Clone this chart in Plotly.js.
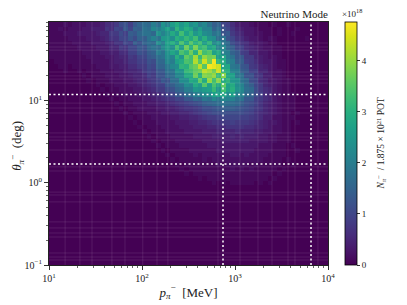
<!DOCTYPE html>
<html><head><meta charset="utf-8">
<script src="https://cdn.plot.ly/plotly-3.0.1.min.js"></script>
<style>html,body{margin:0;padding:0;background:#fff}</style></head>
<body><div id="chart" style="width:407px;height:305px"></div>
<script>
// counts per bin in units of 1e17, top row first
const countRows = [
[1,1,1,2,1,2,2,2,3,3, 3,4,6,6,8,11,12,9,13,15, 17,16,20,17,24,21,26,29,25,28, 23,25,20,22,18,14,15,10,9,6, 4,3,3,2,1,1,1,0,1,0, 0,1,0,0,0,0,0,0,0,0],
[1,1,2,1,2,2,2,3,3,4, 4,4,7,6,10,9,13,10,15,14, 18,17,22,20,23,27,22,31,26,30, 28,22,26,21,21,15,17,12,10,7, 5,4,3,3,2,1,1,1,0,1, 0,0,0,1,0,0,0,0,0,0],
[1,1,1,2,2,2,3,3,3,3, 4,5,5,8,8,11,9,14,13,16, 18,18,16,24,21,24,29,25,33,27, 31,25,28,23,22,18,19,12,13,8, 6,5,3,3,2,2,1,1,0,1, 0,0,1,0,0,0,0,0,0,0],
[1,1,1,1,2,2,2,2,3,3, 3,4,5,7,7,10,10,13,11,15, 14,18,21,18,25,26,23,30,28,32, 29,33,25,30,24,23,17,18,12,10, 7,6,4,3,3,2,1,2,1,0, 0,0,0,0,0,1,0,0,0,0],
[1,1,1,1,1,2,2,2,2,3, 3,3,4,5,7,7,10,9,14,12, 15,17,16,23,20,27,30,25,34,28, 35,30,33,26,31,22,24,18,16,11, 9,7,6,4,3,3,2,1,1,0, 0,0,0,0,0,0,0,0,0,0],
[1,1,1,1,1,1,2,2,2,2, 3,3,3,5,5,8,7,10,10,13, 12,16,18,17,22,26,23,33,26,37, 30,38,31,33,27,29,21,22,16,14, 10,9,6,5,4,3,2,2,1,1, 0,0,0,0,0,0,0,0,0,0],
[1,1,1,1,1,1,1,2,2,2, 2,3,3,4,4,6,6,9,9,12, 11,14,15,20,18,24,28,25,34,31, 37,30,40,33,35,27,29,21,20,15, 13,9,8,5,5,3,3,2,1,1, 0,0,0,0,0,0,0,0,0,0],
[1,1,1,1,1,1,1,1,2,2, 2,2,3,3,4,5,5,8,7,10, 10,13,14,17,18,23,21,30,25,36, 33,41,32,40,37,38,26,28,20,18, 13,13,8,8,5,4,3,2,2,1, 0,0,0,0,0,0,0,0,0,0],
[0,1,1,1,1,1,1,1,1,2, 2,2,2,3,4,4,5,7,7,9, 9,12,11,16,16,22,20,27,29,34, 33,42,35,44,37,47,31,29,22,20, 14,14,9,8,6,4,3,3,2,1, 1,0,0,0,0,0,0,0,0,0],
[0,0,1,1,0,1,1,1,1,1, 2,2,2,3,3,4,4,6,6,8, 8,11,10,15,15,19,22,23,31,30, 35,37,43,35,47,46,44,28,28,19, 18,13,12,8,7,5,4,3,2,1, 1,0,0,0,0,0,0,0,0,0],
[0,0,0,1,0,0,1,0,1,1, 1,2,2,2,3,3,4,5,5,6, 8,10,9,13,13,18,18,25,24,32, 33,36,37,43,41,37,44,31,30,21, 20,14,13,9,9,5,5,3,2,2, 1,0,0,0,0,0,0,0,0,0],
[0,0,0,0,0,0,0,1,0,1, 1,1,2,2,2,3,3,4,5,5, 6,9,8,12,12,16,17,22,22,29, 29,37,30,39,38,40,32,39,28,27, 19,18,12,12,8,7,4,4,2,2, 1,0,0,0,0,0,0,0,0,0],
[0,0,0,0,0,0,0,0,1,0, 1,1,1,2,2,2,3,3,4,5, 5,7,8,10,13,12,17,17,23,23, 29,28,36,29,40,33,39,29,31,25, 24,18,16,11,10,6,5,3,3,2, 1,1,0,0,0,0,0,0,0,0],
[0,0,0,0,0,0,0,0,0,0, 1,0,1,1,2,2,2,3,3,4, 5,6,7,9,9,13,14,17,18,23, 22,29,26,35,27,34,29,36,27,29, 23,21,16,14,10,8,5,4,3,2, 1,1,0,0,0,0,0,0,0,0],
[0,0,0,0,0,0,0,0,0,0, 0,1,0,1,1,2,2,2,3,3, 4,5,6,8,8,11,12,15,16,20, 20,25,24,26,27,32,25,33,27,30, 24,22,17,16,11,8,6,5,3,2, 1,1,0,0,0,0,0,0,0,0],
[0,0,0,0,0,0,0,0,0,0, 0,0,1,0,1,1,2,2,2,3, 3,4,5,6,7,9,10,13,13,17, 17,20,21,23,23,27,27,28,23,27, 21,21,16,15,11,9,6,5,3,2, 1,1,1,0,0,0,0,0,0,0],
[0,0,0,0,0,0,0,0,0,0, 0,0,0,1,0,1,1,2,2,2, 3,3,4,5,6,7,8,10,10,13, 13,16,15,19,18,22,19,22,21,21, 18,18,13,13,9,8,6,5,3,2, 1,1,1,0,0,0,0,0,0,0],
[0,0,0,0,0,0,0,0,0,0, 0,0,0,0,1,0,1,1,2,2, 2,3,3,4,4,5,6,7,8,9, 10,11,12,14,15,16,17,18,17,17, 16,14,12,11,9,7,5,4,3,2, 1,1,1,0,0,0,0,0,0,0],
[0,0,0,0,0,0,0,0,0,0, 0,0,0,0,0,1,0,1,1,2, 2,2,2,3,3,4,4,5,6,7, 7,8,9,11,11,12,13,14,14,14, 13,12,11,10,8,7,5,4,3,2, 1,1,1,0,0,0,0,0,0,0],
[0,0,0,0,0,0,0,0,0,0, 0,0,0,0,0,0,1,0,1,1, 1,2,2,2,3,3,4,4,5,5, 6,7,8,9,10,11,11,12,11,11, 11,11,10,9,7,6,5,4,3,2, 1,1,0,1,0,0,0,0,0,0],
[0,0,0,0,0,0,0,0,0,0, 0,0,0,0,0,0,0,1,0,1, 1,1,2,2,2,2,3,3,4,4, 5,5,6,7,8,8,9,10,10,10, 10,9,9,8,7,6,4,4,2,2, 1,1,1,0,0,0,0,0,0,0],
[0,0,0,0,0,0,0,0,0,0, 0,0,0,0,0,0,0,0,1,0, 1,1,1,2,2,2,2,3,3,3, 4,4,5,5,6,7,7,8,8,9, 8,8,8,7,6,5,4,3,3,2, 1,1,0,1,0,0,0,0,0,0],
[0,0,0,0,0,0,0,0,0,0, 0,0,0,0,0,0,0,0,0,1, 0,1,1,1,2,2,2,2,3,3, 3,4,4,4,5,5,6,6,7,7, 7,7,6,6,5,5,4,3,2,2, 1,1,0,0,0,0,0,0,0,0],
[0,0,0,0,0,0,0,0,0,0, 0,0,0,0,0,0,0,0,0,0, 1,0,1,1,1,2,2,2,2,3, 3,3,3,4,4,4,5,5,5,5, 6,5,5,5,4,4,3,3,2,2, 1,1,0,0,0,0,0,0,0,0],
[0,0,0,0,0,0,0,0,0,0, 0,0,0,0,0,0,0,0,0,0, 0,1,0,1,1,1,2,2,2,2, 2,3,3,3,3,4,4,4,4,5, 4,5,4,4,4,3,3,2,2,1, 1,1,0,0,0,0,0,0,0,0],
[0,0,0,0,0,0,0,0,0,0, 0,0,0,0,0,0,0,0,0,0, 0,0,1,0,1,1,1,2,2,2, 2,2,2,3,3,3,3,4,4,4, 4,4,4,3,3,3,3,2,2,1, 1,1,0,0,0,0,0,0,0,0],
[0,0,0,0,0,0,0,0,0,0, 0,0,0,0,0,0,0,0,0,0, 0,0,0,1,0,1,1,1,2,2, 2,2,2,2,3,3,3,3,3,3, 3,3,3,3,3,2,2,2,1,1, 1,0,1,0,0,0,0,0,0,0],
[0,0,0,0,0,0,0,0,0,0, 0,0,0,0,0,0,0,0,0,0, 0,0,0,0,1,0,1,1,1,1, 2,2,2,2,2,2,3,3,3,3, 3,3,3,3,2,2,2,2,1,1, 1,0,0,1,0,0,0,0,0,0],
[0,0,0,0,0,0,0,0,0,0, 0,0,0,0,0,0,0,0,0,0, 0,0,0,0,0,1,0,1,1,1, 1,2,1,2,2,2,2,2,2,3, 3,2,3,2,2,2,2,1,1,1, 1,0,0,0,0,0,0,0,0,0],
[0,0,0,0,0,0,0,0,0,0, 0,0,0,0,0,0,0,0,0,0, 0,0,0,0,0,0,1,0,1,1, 1,1,1,2,1,2,2,2,2,2, 2,2,2,2,2,2,1,1,1,1, 0,1,0,0,0,0,0,0,0,0],
[0,0,0,0,0,0,0,0,0,0, 0,0,0,0,0,0,0,0,0,0, 0,0,0,0,0,0,0,1,0,1, 1,1,1,1,1,1,2,1,2,2, 2,2,2,1,2,1,1,1,1,1, 0,0,1,0,0,0,0,0,0,0],
[0,0,0,0,0,0,0,0,0,0, 0,0,0,0,0,0,0,0,0,0, 0,0,0,0,0,0,0,0,1,0, 1,1,1,1,1,1,1,1,1,2, 1,2,1,2,1,1,1,1,1,0, 1,0,0,0,0,0,0,0,0,0],
[0,0,0,0,0,0,0,0,0,0, 0,0,0,0,0,0,0,0,0,0, 0,0,0,0,0,0,0,0,0,1, 0,1,1,1,1,1,1,1,1,1, 1,1,1,1,1,1,1,1,0,1, 0,0,0,0,0,0,0,0,0,0],
[0,0,0,0,0,0,0,0,0,0, 0,0,0,0,0,0,0,0,0,0, 0,0,0,0,0,0,0,0,0,0, 0,0,1,0,1,1,1,1,1,1, 1,1,1,1,1,1,1,0,1,0, 0,0,0,0,0,0,0,0,0,0],
[0,0,0,0,0,0,0,0,0,0, 0,0,0,0,0,0,0,0,0,0, 0,0,0,0,0,0,0,0,0,0, 0,0,0,0,0,1,0,1,0,1, 1,1,1,1,0,1,0,1,0,0, 0,0,0,0,0,0,0,0,0,0],
[0,0,0,0,0,0,0,0,0,0, 0,0,0,0,0,0,0,0,0,0, 0,0,0,0,0,0,0,0,0,0, 0,0,0,0,0,0,0,0,0,0, 0,0,0,0,0,0,0,0,0,0, 0,0,0,0,0,0,0,0,0,0]
];
const pTicks = [10,100,1000,10000], pTickText = ['10<sup>1</sup>','10<sup>2</sup>','10<sup>3</sup>','10<sup>4</sup>'];
const thetaTicks = [0.1,1,10], thetaTickText = ['10<sup>−1</sup>','10<sup>0</sup>','10<sup>1</sup>'];
const pLogMin = 1, pLogMax = 4, thetaLogMin = -1, thetaLogMax = Math.log10(90);
const thetaLogStep = 0.0567;
const pCuts = [743, 6566];
const thetaCuts = [11.8, 1.69];
const seamP = [14.9,21.5,29,47.5,65.6,102,145,190,656,1132,1766,2500,3715,4416,7800];
const seamTheta = [50,44.7,41,22.2,19.9,18.2,16.3,9.3,8.1,7.05,4.03,3.6,3.3,2.5,1.56,1.39,0.77,0.71,0.585,0.334,0.282,0.245,0.219,0.14,0.125,0.115];
const minorLog = [2,3,4,5,6,7,8,9];

const nCols = countRows[0].length, nRows = countRows.length;
const xEdges = []; for (let i=0;i<=nCols;i++) xEdges.push(Math.pow(10,pLogMin+(pLogMax-pLogMin)*i/nCols));
const topDown = []; for (let j=0;j<nRows;j++) topDown.push(Math.pow(10,thetaLogMax-thetaLogStep*j));
topDown.push(Math.pow(10,thetaLogMin));
const yEdges = topDown.slice().reverse();
const z = countRows.slice().reverse().map(r=>r.map(v=>v/10));

const xMinor=[], yMinor=[];
for (let d=1;d<4;d++) minorLog.forEach(m=>xMinor.push(m*Math.pow(10,d)));
for (let d=-1;d<2;d++) minorLog.forEach(m=>{const v=m*Math.pow(10,d); if(v<=90) yMinor.push(v);});

const xMin=10,xMax=10000,yMin=0.1,yMax=90;
const seamX=[],seamY=[];
seamP.forEach(p=>{seamX.push(p,p,null);seamY.push(yMin,yMax,null);});
seamTheta.forEach(t=>{seamX.push(xMin,xMax,null);seamY.push(t,t,null);});
const cutX=[],cutY=[];
pCuts.forEach(p=>{cutX.push(p,p,null);cutY.push(yMin,yMax,null);});
thetaCuts.forEach(t=>{cutX.push(xMin,xMax,null);cutY.push(t,t,null);});

const serif='"Liberation Serif","DejaVu Serif",serif', ink='#222';
const data=[
 {type:'heatmap',x:xEdges,y:yEdges,z:z,colorscale:'Viridis',zmin:0,zmax:4.76,hoverinfo:'skip',
  colorbar:{thickness:12,thicknessmode:'pixels',len:1,lenmode:'fraction',x:1.0625,xanchor:'left',y:0,yanchor:'bottom',
   outlinewidth:0.8,outlinecolor:'#000',ticks:'outside',ticklen:3,tickwidth:0.8,tickcolor:'#000',tickvals:[0,1,2,3,4],
   tickfont:{family:serif,size:9,color:ink},xpad:0,ypad:0}},
 {type:'scatter',mode:'lines',x:seamX,y:seamY,line:{color:'rgba(255,255,255,0.1)',width:1},hoverinfo:'skip',showlegend:false},
 {type:'scatter',mode:'lines',x:cutX,y:cutY,line:{color:'#fff',width:1.5,dash:'2px,2.5px'},hoverinfo:'skip',showlegend:false}
];
const axis={type:'log',showgrid:false,zeroline:false,showline:true,linecolor:'#222',linewidth:1,mirror:true,
 ticks:'outside',ticklen:4,tickwidth:0.8,tickcolor:'#000',tickmode:'array',tickfont:{family:serif,size:10,color:ink}};
const layout={width:407,height:305,margin:{l:49,r:79,t:22,b:40,pad:0},paper_bgcolor:'#fff',plot_bgcolor:'#440154',showlegend:false,
 title:{text:'Neutrino Mode',x:328/407,xanchor:'right',xref:'container',y:(305-14)/305,yanchor:'middle',font:{family:serif,size:11,color:ink}},
 xaxis:Object.assign({},axis,{range:[1,4],tickvals:pTicks,ticktext:pTickText,minor:{ticks:'outside',ticklen:2,tickwidth:0.6,tickcolor:'#000',tickvals:xMinor},
  title:{text:'<i>p</i><sub><i>π</i></sub><sup>−</sup>  [MeV]',font:{family:serif,size:13,color:ink},standoff:4}}),
 yaxis:Object.assign({},axis,{range:[-1,Math.log10(90)],tickvals:thetaTicks,ticktext:thetaTickText,minor:{ticks:'outside',ticklen:2,tickwidth:0.6,tickcolor:'#000',tickvals:yMinor}}),
 annotations:[
  {xref:'paper',yref:'paper',x:-0.115,y:0.49,xanchor:'center',yanchor:'middle',textangle:-90,showarrow:false,
   text:'<i>θ</i><sub><i>π</i></sub><sup>−</sup>  (deg)',font:{family:serif,size:13,color:ink}},
  {xref:'paper',yref:'paper',x:1.086,y:1.0,yanchor:'bottom',xanchor:'center',yshift:1,showarrow:false,text:'×10<sup>18</sup>',font:{family:serif,size:9,color:ink}},
  {xref:'paper',yref:'paper',x:1.19,y:0.5,xanchor:'center',yanchor:'middle',textangle:-90,showarrow:false,
   text:'<i>N</i><sub><i>π</i></sub><sup>−</sup>  / 1.875 × 10<sup>21</sup> POT',font:{family:serif,size:9.5,color:ink}}
 ]};
Plotly.newPlot('chart',data,layout,{displayModeBar:false,staticPlot:true});
</script></body></html>
